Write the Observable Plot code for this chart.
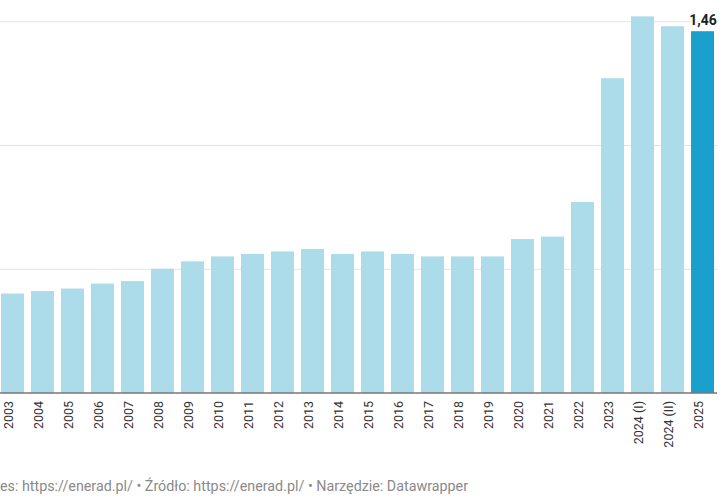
<!DOCTYPE html>
<html>
<head>
<meta charset="utf-8">
<script src="https://cdn.jsdelivr.net/npm/d3@7"></script>
<script src="https://cdn.jsdelivr.net/npm/@observablehq/plot@0.6"></script>
<style>
  html, body { margin: 0; padding: 0; background: #fff; }
  body { width: 720px; height: 500px; overflow: hidden; font-family: Roboto, "Noto Sans", sans-serif; }
  #chart svg { display: block; }
  #footer { margin-top: 18px; font-size: 14.3px; line-height: 16px; color: #8a8a8a; white-space: nowrap; }
</style>
</head>
<body>
<div id="chart"></div>
<div id="footer">es: https://enerad.pl/ • Źródło: https://enerad.pl/ • Narzędzie: Datawrapper</div>
<script>
const categories = ["2003","2004","2005","2006","2007","2008","2009","2010","2011","2012","2013","2014","2015","2016","2017","2018","2019","2020","2021","2022","2023","2024 (I)","2024 (II)","2025"];
const values = [0.40,0.41,0.42,0.44,0.45,0.50,0.53,0.55,0.56,0.57,0.58,0.56,0.57,0.56,0.55,0.55,0.55,0.62,0.63,0.77,1.27,1.52,1.48,1.46];
const gridValues = [0.5, 1.0, 1.5];
const highlight = "2025";
const highlightLabel = "1,46";

const data = categories.map((c, i) => ({cat: c, value: values[i]}));

const chart = Plot.plot({
  width: 720,
  height: 460,
  marginTop: 21.3,
  marginBottom: 67.5,
  marginLeft: 0,
  marginRight: 3,
  style: {fontFamily: "Roboto, sans-serif", background: "#fff", overflow: "visible"},
  x: {domain: categories, range: [-3.15, 719.25], padding: 0.23, paddingOuter: 0.115, axis: null},
  y: {domain: [0, 1.5], axis: null},
  marks: [
    Plot.ruleY(gridValues, {stroke: "#e3e3e3", strokeWidth: 1}),
    Plot.barY(data, {x: "cat", y: "value", fill: d => d.cat === highlight ? "#1aa0cd" : "#acdcea"}),
    Plot.ruleY([0], {stroke: "#333", strokeWidth: 1}),
    Plot.text(data.filter(d => d.cat === highlight), {
      x: "cat", y: "value", text: () => highlightLabel,
      lineAnchor: "bottom", dy: -7, fontSize: 14, fontWeight: "bold",
      fill: "#222", stroke: "#fff", strokeWidth: 3
    }),
    Plot.text(data, {
      x: "cat", frameAnchor: "bottom", text: "cat", rotate: -90,
      textAnchor: "end", dy: 8, fontSize: 12.5, fill: "#333",
      fontWeight: d => d.cat === highlight ? "bold" : "normal"
    })
  ]
});
document.getElementById("chart").appendChild(chart);
</script>
</body>
</html>
